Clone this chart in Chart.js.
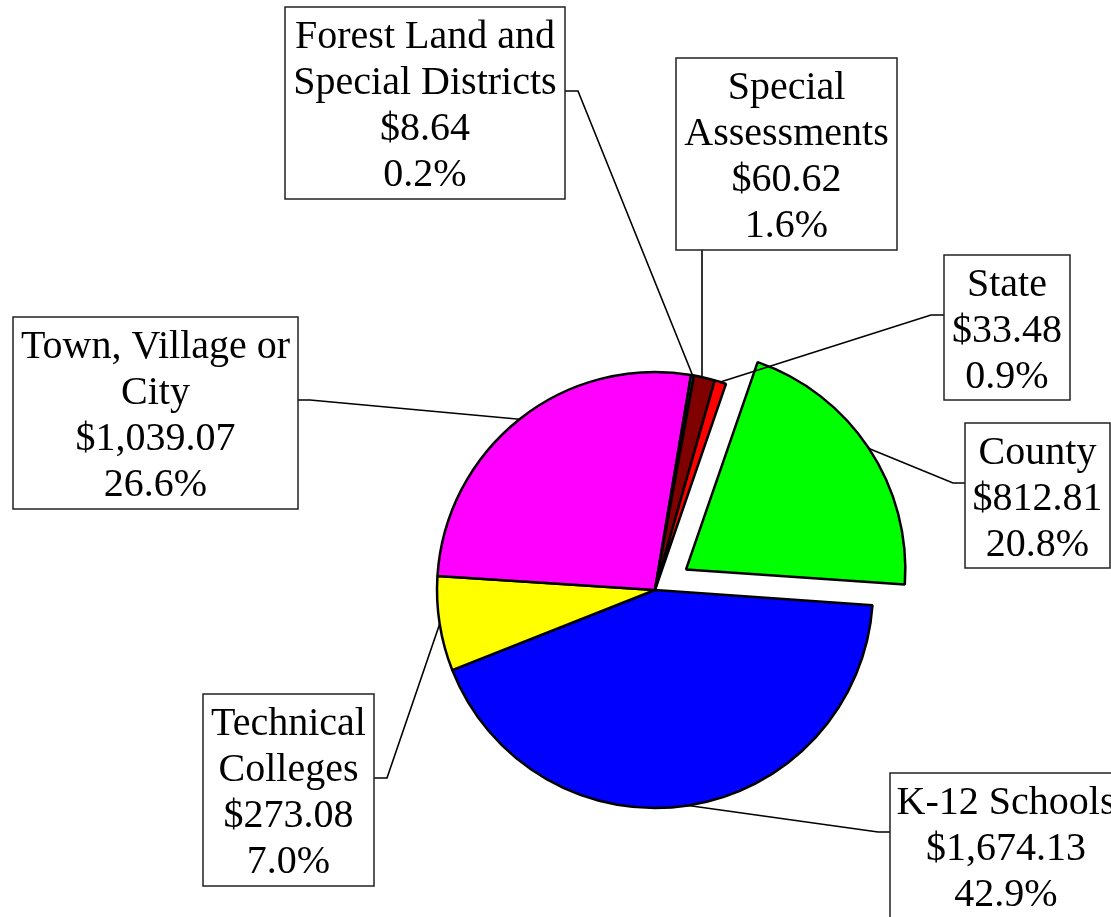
<!DOCTYPE html>
<html>
<head>
<meta charset="utf-8">
<script src="https://cdn.jsdelivr.net/npm/chart.js@4/dist/chart.umd.min.js"></script>
<style>
  html, body { margin: 0; padding: 0; background: #ffffff; }
  #wrap { width: 1111px; height: 917px; position: relative; }
</style>
</head>
<body>
<div id="wrap"><canvas id="c" width="1111" height="917"></canvas></div>
<script>
// ---- data ----
const categories = ["County", "K-12 Schools", "Technical\nColleges", "Town, Village or\nCity", "Forest Land and\nSpecial Districts", "Special\nAssessments", "State"];
const amounts = [812.81, 1674.13, 273.08, 1039.07, 8.64, 60.62, 33.48];
const sliceColors = ["#00FF00", "#0000FF", "#FFFF00", "#FF00FF", "#008080", "#800000", "#FF0000"];
const explode = [149, 0, 0, 0, 0, 0, 0];

// ---- label layout (annotation boxes) ----
const boxLayout = [
  { l: 965, t: 423, w: 145, h: 145, side: "left",   ay: 483, ex: 953 },
  { l: 890, t: 773, w: 232, h: 192, side: "left",   ay: 832, ex: 878 },
  { l: 203, t: 694, w: 171, h: 192, side: "right",  ay: 778, ex: 387 },
  { l: 13,  t: 317, w: 285, h: 192, side: "right",  ay: 400, ex: 310 },
  { l: 285, t: 7,   w: 280, h: 192, side: "right",  ay: 91,  ex: 578 },
  { l: 676, t: 58,  w: 221, h: 192, side: "bottom", ax: 702 },
  { l: 944, t: 255, w: 126, h: 145, side: "left",   ay: 315, ex: 931 }
];

const total = amounts.reduce((a, b) => a + b, 0);
const FONT = '40px "Liberation Serif", "Times New Roman", serif';

const labelPlugin = {
  id: 'calloutLabels',
  afterDatasetsDraw(chart) {
    const ctx = chart.ctx;
    const meta = chart.getDatasetMeta(0);
    ctx.save();
    meta.data.forEach((arc, i) => {
      const b = boxLayout[i];
      const mid = (arc.startAngle + arc.endAngle) / 2;
      const circ = arc.endAngle - arc.startAngle;
      const off = (arc.options.offset || 0) / 4;
      const fix = 1 - Math.sin(Math.min(Math.PI, circ));
      const shift = off * (1 + fix);
      const r = arc.outerRadius + shift;
      const px = arc.x + Math.cos(mid) * r;
      const py = arc.y + Math.sin(mid) * r;
      // leader line
      ctx.beginPath();
      ctx.strokeStyle = "#000000";
      ctx.lineWidth = 1.6;
      if (b.side === "left") {
        ctx.moveTo(b.l, b.ay); ctx.lineTo(b.ex, b.ay); ctx.lineTo(px, py);
      } else if (b.side === "right") {
        ctx.moveTo(b.l + b.w, b.ay); ctx.lineTo(b.ex, b.ay); ctx.lineTo(px, py);
      } else {
        const dx = b.ax - arc.x;
        const yTop = arc.y - Math.sqrt(Math.max(arc.outerRadius * arc.outerRadius - dx * dx, 0));
        ctx.moveTo(b.ax, b.t + b.h); ctx.lineTo(b.ax, yTop);
      }
      ctx.stroke();
      // box
      ctx.fillStyle = "#ffffff";
      ctx.fillRect(b.l, b.t, b.w, b.h);
      ctx.strokeStyle = "#222222";
      ctx.lineWidth = 1.5;
      ctx.strokeRect(b.l, b.t, b.w, b.h);
      // text
      const lines = categories[i].split("\n");
      lines.push("$" + amounts[i].toLocaleString("en-US", { minimumFractionDigits: 2, maximumFractionDigits: 2 }));
      lines.push((amounts[i] / total * 100).toFixed(1) + "%");
      ctx.fillStyle = "#000000";
      ctx.font = FONT;
      ctx.textAlign = "center";
      ctx.textBaseline = "alphabetic";
      const cx = b.l + b.w / 2;
      lines.forEach((s, k) => ctx.fillText(s, cx, b.t + 41 + k * 46));
    });
    ctx.restore();
  }
};

new Chart(document.getElementById('c'), {
  type: 'pie',
  data: {
    labels: categories,
    datasets: [{
      data: amounts,
      backgroundColor: sliceColors,
      borderColor: "#000000",
      borderWidth: 2.5,
      offset: explode
    }]
  },
  options: {
    responsive: false,
    animation: false,
    rotation: 19,
    radius: 218,
    layout: { padding: { left: 199, right: 0, top: 263, bottom: 0 } },
    plugins: {
      legend: { display: false },
      tooltip: { enabled: false }
    }
  },
  plugins: [labelPlugin]
});
</script>
</body>
</html>
